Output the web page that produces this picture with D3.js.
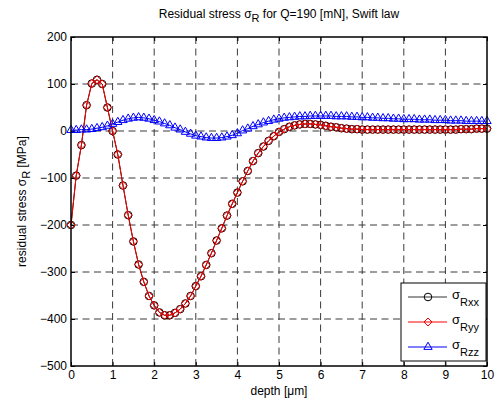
<!DOCTYPE html>
<html><head><meta charset="utf-8">
<script src="https://cdn.jsdelivr.net/npm/d3@7"></script>
<style>body{margin:0;background:#fff} text{font-family:"Liberation Sans",Arial,sans-serif;fill:#000}</style>
</head><body><svg id="c" width="496" height="403"></svg>
<script>
const depth = [0,0.125,0.25,0.375,0.5,0.625,0.75,0.875,1,1.125,1.25,1.375,1.5,1.625,1.75,1.875,2,2.125,2.25,2.375,2.5,2.625,2.75,2.875,3,3.125,3.25,3.375,3.5,3.625,3.75,3.875,4,4.125,4.25,4.375,4.5,4.625,4.75,4.875,5,5.125,5.25,5.375,5.5,5.625,5.75,5.875,6,6.125,6.25,6.375,6.5,6.625,6.75,6.875,7,7.125,7.25,7.375,7.5,7.625,7.75,7.875,8,8.125,8.25,8.375,8.5,8.625,8.75,8.875,9,9.125,9.25,9.375,9.5,9.625,9.75,9.875,10];
const sigmaRxx = [-200,-95,-30,55,101,109,100,50,0,-50,-116,-179,-235,-284,-321,-351,-371,-386,-392,-392,-387,-379,-367,-351,-330,-309,-285,-260,-233,-207,-180,-155,-131,-107,-85,-64,-47,-33,-21,-11,-2,4,9,12,14,15,15,14,13,11,9,8,6,5,4,4,3,3,3,3,3,3,3,3,3,3,3,3,3,3,3,3,3,3,3,4,4,4,5,5,5];
const sigmaRyy = [-200,-95,-30,55,101,109,100,50,0,-50,-116,-179,-235,-284,-321,-351,-371,-386,-392,-392,-387,-379,-367,-351,-330,-309,-285,-260,-233,-207,-180,-155,-131,-107,-85,-64,-47,-33,-21,-11,-2,4,9,12,14,15,15,14,13,11,9,8,6,5,4,4,3,3,3,3,3,3,3,3,3,3,3,3,3,3,3,3,3,3,3,4,4,4,5,5,5];
const sigmaRzz = [2,2,3,3,4,6,8,11,15,19,23,26,28,29,28,26,23,20,16,12,7,3,-2,-6,-10,-12,-14,-15,-15,-14,-12,-9,-5,1,5,10,14,18,21,24,26,28,29,30,31,31,32,32,32,32,32,31,31,31,30,30,29,29,28,28,27,27,26,26,25,25,25,24,24,24,23,23,23,22,22,22,21,21,21,21,21];
const xTicks = [0,1,2,3,4,5,6,7,8,9,10];
const yTicks = [200,100,0,-100,-200,-300,-400,-500];
const legendNames = ["Rxx","Ryy","Rzz"];

const svg = d3.select("#c");
const L = 71, R = 487, T = 37, B = 366;
const x = d3.scaleLinear().domain([0, 10]).range([L, R]);
const y = d3.scaleLinear().domain([-500, 200]).range([B, T]);

// grid
const grid = svg.append("g").attr("stroke", "#3a3a3a").attr("stroke-width", 1).attr("stroke-dasharray", "7,4.5");
grid.selectAll("line.v").data(xTicks.slice(1, -1)).join("line")
  .attr("x1", d => x(d)).attr("x2", d => x(d)).attr("y1", T).attr("y2", B);
grid.selectAll("line.h").data(yTicks.slice(1, -1)).join("line")
  .attr("x1", L).attr("x2", R).attr("y1", d => y(d)).attr("y2", d => y(d));

// axes
function styleAxis(g) {
  g.selectAll(".domain").remove();
  g.selectAll(".tick line").attr("stroke", "#000");
  g.selectAll(".tick text").attr("font-size", 12).attr("font-family", "Liberation Sans, Arial, sans-serif");
}
svg.append("g").attr("transform", `translate(0,${B})`)
  .call(d3.axisBottom(x).tickValues(xTicks).tickFormat(d3.format("d")).tickSize(-4).tickPadding(4)).call(styleAxis);
svg.append("g").attr("transform", `translate(0,${T})`)
  .call(d3.axisTop(x).tickValues(xTicks).tickFormat("").tickSize(-4)).call(styleAxis);
svg.append("g").attr("transform", `translate(${L},0)`)
  .call(d3.axisLeft(y).tickValues(yTicks).tickFormat(d3.format("d")).tickSize(-4).tickPadding(4)).call(styleAxis);
svg.append("g").attr("transform", `translate(${R},0)`)
  .call(d3.axisRight(y).tickValues(yTicks).tickFormat("").tickSize(-4)).call(styleAxis);
svg.selectAll(".tick text").attr("font-size", 12);

// series
const line = d3.line().x(d => x(d[0])).y(d => y(d[1]));
const dxx = depth.map((d, i) => [d, sigmaRxx[i]]);
const dyy = depth.map((d, i) => [d, sigmaRyy[i]]);
const dzz = depth.map((d, i) => [d, sigmaRzz[i]]);

const diamond = (cx, cy, r) => `M${cx},${cy - r}L${cx + r},${cy}L${cx},${cy + r}L${cx - r},${cy}Z`;
const tri = d3.symbol().type(d3.symbolTriangle).size(30);

// Rxx black with circles
svg.append("path").datum(dxx).attr("d", line).attr("fill", "none").attr("stroke", "#000").attr("stroke-width", 1);
svg.append("g").selectAll("circle").data(dxx).join("circle")
  .attr("cx", d => x(d[0])).attr("cy", d => y(d[1])).attr("r", 3.8)
  .attr("fill", "none").attr("stroke", "#000").attr("stroke-width", 1);
// Ryy red with diamonds
svg.append("path").datum(dyy).attr("d", line).attr("fill", "none").attr("stroke", "#ff0000").attr("stroke-width", 1);
svg.append("g").selectAll("path").data(dyy).join("path")
  .attr("d", d => diamond(x(d[0]), y(d[1]), 4))
  .attr("fill", "none").attr("stroke", "#ff0000").attr("stroke-width", 1);
// Rzz blue with triangles
svg.append("path").datum(dzz).attr("d", line).attr("fill", "none").attr("stroke", "#0000ff").attr("stroke-width", 1);
svg.append("g").selectAll("path").data(dzz).join("path")
  .attr("transform", d => `translate(${x(d[0])},${y(d[1])})`).attr("d", tri)
  .attr("fill", "none").attr("stroke", "#0000ff").attr("stroke-width", 1);

// frame
svg.append("rect").attr("x", L).attr("y", T).attr("width", R - L).attr("height", B - T)
  .attr("fill", "none").attr("stroke", "#000").attr("stroke-width", 1.5);

// title
const title = svg.append("text").attr("x", (L + R) / 2).attr("y", 18).attr("text-anchor", "middle").attr("font-size", 12);
title.append("tspan").text("Residual stress σ");
title.append("tspan").attr("dy", 4).attr("font-size", 11).text("R");
title.append("tspan").attr("dy", -4).text(" for Q=190 [mN], Swift law");

// x label
svg.append("text").attr("x", (L + R) / 2).attr("y", 395).attr("text-anchor", "middle").attr("font-size", 12).text("depth [μm]");

// y label
const yl = svg.append("text").attr("transform", `translate(26,${(T + B) / 2}) rotate(-90)`).attr("text-anchor", "middle").attr("font-size", 12);
yl.append("tspan").text("residual stress σ");
yl.append("tspan").attr("dy", 4).attr("font-size", 11).text("R");
yl.append("tspan").attr("dy", -4).text(" [MPa]");

// legend
const lg = svg.append("g");
lg.append("rect").attr("x", 401).attr("y", 283).attr("width", 85).attr("height", 78)
  .attr("fill", "#fff").attr("stroke", "#000").attr("stroke-width", 1);
const rowsY = [297, 322, 347];
const colors = ["#333", "#ff0000", "#0000ff"];
legendNames.forEach((n, i) => {
  const ry = rowsY[i];
  lg.append("line").attr("x1", 408).attr("x2", 447).attr("y1", ry).attr("y2", ry).attr("stroke", colors[i]).attr("stroke-width", 1);
  if (i === 0) lg.append("circle").attr("cx", 428).attr("cy", ry).attr("r", 3.8).attr("fill", "none").attr("stroke", "#000");
  if (i === 1) lg.append("path").attr("d", diamond(428, ry, 4)).attr("fill", "none").attr("stroke", "#ff0000");
  if (i === 2) lg.append("path").attr("transform", `translate(428,${ry})`).attr("d", tri).attr("fill", "none").attr("stroke", "#0000ff");
  const t = lg.append("text").attr("x", 452).attr("y", ry + 2).attr("font-size", 13);
  t.append("tspan").text("σ");
  t.append("tspan").attr("dy", 7).attr("font-size", 11).text(n);
});
</script>
</body></html>
